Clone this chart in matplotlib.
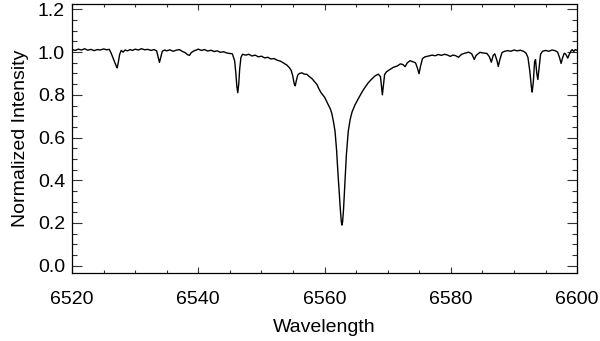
import matplotlib
matplotlib.use("Agg")
import matplotlib.pyplot as plt
from matplotlib.ticker import MultipleLocator

# normalized spectrum around H-alpha
wave = [
    6520.0, 6520.5, 6521.0, 6521.5, 6522.0, 6522.5, 6523.0, 6523.5, 6524.0, 6524.5,
    6525.0, 6525.5, 6525.9, 6526.2, 6526.5, 6526.8, 6527.0, 6527.15, 6527.35, 6527.55,
    6527.8, 6528.1, 6528.4, 6528.8, 6529.2, 6529.6, 6530.0, 6530.5, 6531.0, 6531.5,
    6532.0, 6532.5, 6533.0, 6533.4, 6533.65, 6533.85, 6534.05, 6534.3, 6534.7, 6535.0,
    6535.5, 6536.0, 6536.5, 6537.0, 6537.5, 6537.9, 6538.3, 6538.6, 6538.9, 6539.3,
    6539.7, 6540.0, 6540.5, 6541.0, 6541.5, 6542.0, 6542.5, 6543.0, 6543.5, 6544.0,
    6544.5, 6545.0, 6545.4, 6545.75, 6545.95, 6546.1, 6546.25, 6546.4, 6546.55, 6546.75,
    6547.0, 6547.5, 6548.0, 6548.5, 6549.0, 6549.5, 6550.0, 6550.5, 6551.0, 6551.5,
    6552.0, 6552.5, 6553.0, 6553.5, 6554.0, 6554.4, 6554.7, 6554.95, 6555.2, 6555.35,
    6555.55, 6555.75, 6556.0, 6556.4, 6556.8, 6557.2, 6557.6, 6558.0, 6558.4, 6558.8,
    6559.1, 6559.4, 6559.7, 6560.0, 6560.3, 6560.6, 6560.9, 6561.15, 6561.4, 6561.65,
    6561.9, 6562.1, 6562.3, 6562.5, 6562.65, 6562.75, 6562.85, 6563.0, 6563.2, 6563.45,
    6563.75, 6564.05, 6564.35, 6564.8, 6565.3, 6565.9, 6566.4, 6566.9, 6567.4, 6568.0,
    6568.5, 6568.85, 6569.0, 6569.15, 6569.3, 6569.5, 6569.8, 6570.3, 6570.9, 6571.5,
    6572.0, 6572.4, 6572.75, 6573.1, 6573.55, 6574.0, 6574.4, 6574.7, 6574.95, 6575.2,
    6575.5, 6575.9, 6576.5, 6577.0, 6577.5, 6578.0, 6578.5, 6579.0, 6579.5, 6579.9,
    6580.3, 6580.7, 6581.2, 6581.7, 6582.2, 6582.8, 6583.3, 6583.7, 6584.0, 6584.6,
    6585.1, 6585.7, 6586.1, 6586.4, 6586.7, 6586.95, 6587.3, 6587.5, 6587.75, 6588.1,
    6588.5, 6589.0, 6589.5, 6590.0, 6590.5, 6591.0, 6591.5, 6591.9, 6592.2, 6592.5,
    6592.75, 6592.87, 6593.05, 6593.25, 6593.4, 6593.6, 6593.77, 6593.95, 6594.2, 6594.5,
    6595.0, 6595.5, 6596.0, 6596.5, 6596.9, 6597.2, 6597.45, 6597.7, 6597.95, 6598.2,
    6598.5, 6598.75, 6599.0, 6599.2, 6599.45, 6599.7, 6600.0,
]
flux = [
    1.012, 1.008, 1.014, 1.010, 1.016, 1.009, 1.013, 1.007, 1.012, 1.010,
    1.015, 1.011, 1.013, 0.995, 0.972, 0.950, 0.935, 0.926, 0.955, 0.990,
    1.008, 1.000, 1.010, 1.006, 1.012, 1.008, 1.014, 1.010, 1.016, 1.011,
    1.013, 1.008, 1.012, 1.006, 0.975, 0.952, 0.975, 1.004, 1.010, 1.006,
    1.011, 1.004, 1.009, 1.012, 1.003, 0.998, 0.988, 0.985, 0.998, 1.006,
    1.010, 1.014, 1.008, 1.012, 1.005, 1.009, 1.003, 1.006, 0.999, 1.002,
    0.996, 0.994, 0.992, 0.960, 0.900, 0.840, 0.810, 0.850, 0.920, 0.975,
    0.990, 0.986, 0.990, 0.982, 0.986, 0.978, 0.981, 0.973, 0.976, 0.968,
    0.970, 0.962, 0.958, 0.949, 0.940, 0.928, 0.915, 0.890, 0.850, 0.842,
    0.870, 0.893, 0.900, 0.903, 0.897, 0.896, 0.885, 0.876, 0.862, 0.848,
    0.828, 0.812, 0.800, 0.789, 0.770, 0.752, 0.735, 0.712, 0.675, 0.630,
    0.540, 0.440, 0.350, 0.260, 0.205, 0.190, 0.205, 0.265, 0.380, 0.520,
    0.630, 0.685, 0.720, 0.752, 0.780, 0.812, 0.835, 0.856, 0.872, 0.889,
    0.897, 0.885, 0.840, 0.800, 0.840, 0.895, 0.908, 0.918, 0.929, 0.935,
    0.945, 0.942, 0.932, 0.950, 0.960, 0.955, 0.950, 0.925, 0.899, 0.935,
    0.970, 0.978, 0.982, 0.986, 0.983, 0.989, 0.985, 0.990, 0.986, 0.980,
    0.986, 0.984, 0.976, 0.990, 0.995, 1.000, 0.992, 0.966, 0.985, 0.999,
    0.996, 0.994, 0.978, 0.953, 0.985, 0.992, 0.960, 0.933, 0.965, 0.998,
    1.004, 1.007, 1.004, 1.010, 1.006, 1.009, 1.004, 0.995, 0.975, 0.910,
    0.835, 0.813, 0.860, 0.955, 0.965, 0.900, 0.872, 0.920, 0.990, 1.004,
    1.008, 1.004, 1.010, 1.007, 1.000, 0.975, 0.947, 0.975, 0.995, 0.990,
    0.972, 0.990, 1.005, 1.012, 1.003, 1.012, 1.008,
]

plt.rcParams["font.family"] = ["Liberation Sans", "DejaVu Sans"]

fig = plt.figure(figsize=(6.0, 3.41), dpi=100)
ax = fig.add_axes([0.12, 0.199, 0.842, 0.789])

ax.plot(wave, flux, color="black", lw=1.0)

ax.set_xlim(6520, 6600)
ax.set_ylim(-0.035, 1.225)
ax.xaxis.set_major_locator(MultipleLocator(20))
ax.xaxis.set_minor_locator(MultipleLocator(5))
ax.yaxis.set_major_locator(MultipleLocator(0.2))
ax.yaxis.set_minor_locator(MultipleLocator(0.05))
ax.yaxis.set_major_formatter(plt.FormatStrFormatter("%.1f"))

ax.tick_params(axis="both", which="both", direction="in", top=True, right=True,
               labelsize=14, width=0.8, color="#333333")
ax.tick_params(axis="x", which="major", length=4.0, pad=13)
ax.tick_params(axis="x", which="minor", length=2.0)
ax.tick_params(axis="y", which="major", length=7.3, pad=5)
ax.tick_params(axis="y", which="minor", length=3.6)
for sp in ax.spines.values():
    sp.set_linewidth(0.9)

ax.set_xlabel("Wavelength", fontsize=14, labelpad=8)
ax.set_ylabel("Normalized Intensity", fontsize=14, labelpad=6)

fig.savefig("out.png", dpi=100)
